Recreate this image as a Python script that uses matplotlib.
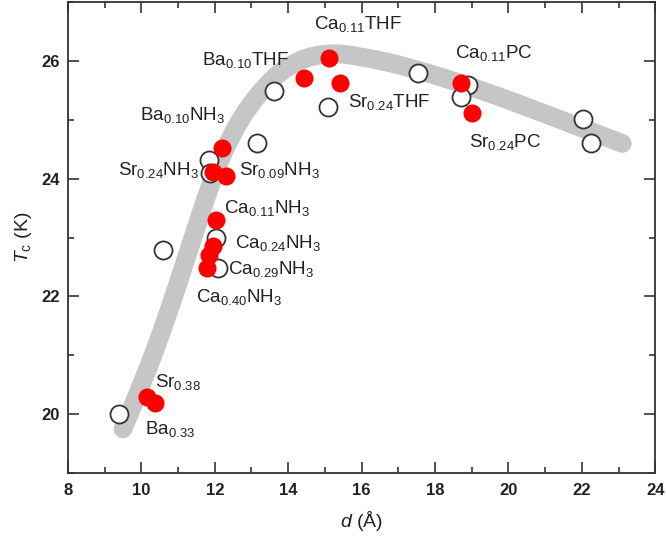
import matplotlib
matplotlib.use("Agg")
import matplotlib.pyplot as plt
from matplotlib.path import Path
from matplotlib.patches import PathPatch
from matplotlib.ticker import MultipleLocator

# ---------------------------------------------------------
# Data
# ---------------------------------------------------------
# guide-to-the-eye band (control points)
curve_d = [9.5, 10.05, 10.7, 11.3, 11.9, 12.4, 13.1, 14.0, 15.0, 16.0, 17.4, 19.3, 21.1, 23.1]
curve_tc = [19.75, 20.55, 21.65, 22.8, 23.95, 24.7, 25.4, 25.95, 26.15, 26.08, 25.88, 25.5, 25.08, 24.6]

# literature points (open circles)
open_d = [9.4, 10.6, 12.1, 12.02, 11.83, 11.88, 13.16, 13.6, 15.08, 17.54, 18.9, 18.7, 22.04, 22.24]
open_tc = [20.0, 22.79, 22.48, 22.99, 24.32, 24.1, 24.6, 25.49, 25.22, 25.8, 25.6, 25.39, 25.01, 24.6]

# this work (red filled)
filled_d = [10.16, 10.38, 11.8, 11.83, 11.96, 12.04, 12.2, 11.96, 12.3, 14.42, 15.1, 15.4, 18.7, 19.0]
filled_tc = [20.29, 20.19, 22.48, 22.7, 22.85, 23.3, 24.52, 24.11, 24.04, 25.71, 26.05, 25.63, 25.63, 25.12]

# annotations: (text, x, baseline y)
labels = ["Ca$_{0.11}$THF", "Ba$_{0.10}$THF", "Sr$_{0.24}$THF", "Ba$_{0.10}$NH$_3$",
          "Sr$_{0.24}$NH$_3$", "Sr$_{0.09}$NH$_3$", "Ca$_{0.11}$NH$_3$", "Ca$_{0.24}$NH$_3$",
          "Ca$_{0.29}$NH$_3$", "Ca$_{0.40}$NH$_3$", "Sr$_{0.38}$", "Ba$_{0.33}$",
          "Ca$_{0.11}$PC", "Sr$_{0.24}$PC"]
label_x = [14.7, 11.66, 15.62, 9.97, 9.37, 12.65, 12.24, 12.56, 12.37, 11.5, 10.38, 10.1, 18.55, 18.93]
label_y = [26.54, 25.93, 25.22, 25.0, 24.06, 24.06, 23.41, 22.82, 22.38, 21.9, 20.46, 19.67, 26.05, 24.54]

# ---------------------------------------------------------
# Style
# ---------------------------------------------------------
plt.rcParams['font.family'] = ['Liberation Sans', 'DejaVu Sans']
plt.rcParams['mathtext.fontset'] = 'custom'
plt.rcParams['mathtext.rm'] = 'Liberation Sans'
plt.rcParams['mathtext.it'] = 'Liberation Sans:italic'

txt_col = "#222222"

fig = plt.figure(figsize=(6.66, 5.37), dpi=100)
ax = fig.add_axes([0.102, 0.119, 0.882, 0.877])

# smooth band: quadratic bezier through the midpoints of the control polygon
pts = list(zip(curve_d, curve_tc))
verts = [pts[0]]
codes = [Path.MOVETO]
for i in range(1, len(pts) - 1):
    mid = ((pts[i][0] + pts[i + 1][0]) / 2, (pts[i][1] + pts[i + 1][1]) / 2)
    if i == len(pts) - 2:
        mid = pts[-1]
    verts += [pts[i], mid]
    codes += [Path.CURVE3, Path.CURVE3]
band = PathPatch(Path(verts, codes), fill=False, edgecolor="#c6c6c6", lw=13.5,
                 capstyle='round', joinstyle='round', zorder=1)
ax.add_patch(band)

ax.plot(open_d, open_tc, 'o', ms=13, mfc='white', mec='#333333', mew=1.3, zorder=2)
ax.plot(filled_d, filled_tc, 'o', ms=13, mfc='#ff0000', mec='#ff0000', mew=0, zorder=3)

for s, x, y in zip(labels, label_x, label_y):
    ax.text(x, y, s, fontsize=13.5, color=txt_col, va='baseline', ha='left', zorder=4)

ax.set_xlim(8, 24)
ax.set_ylim(19, 27)
ax.xaxis.set_major_locator(MultipleLocator(2))
ax.xaxis.set_minor_locator(MultipleLocator(1))
ax.yaxis.set_major_locator(MultipleLocator(2))
ax.yaxis.set_minor_locator(MultipleLocator(1))

ax.tick_params(which='both', direction='in', top=True, right=True, width=1.2, color='#333333')
ax.tick_params(which='major', length=8)
ax.tick_params(which='minor', length=4.5)
ax.tick_params(axis='x', pad=7)
ax.tick_params(axis='y', pad=6)
for lab in ax.get_xticklabels() + ax.get_yticklabels():
    lab.set_fontweight('bold')
    lab.set_fontsize(12)
    lab.set_color(txt_col)
for sp in ax.spines.values():
    sp.set_linewidth(1.3)
    sp.set_color('#333333')

ax.set_xlabel("$d$ (Å)", fontsize=14, color=txt_col, labelpad=8)
ax.set_ylabel("$T_{\\mathrm{c}}$ (K)", fontsize=14, color=txt_col, labelpad=5)

fig.savefig("out.png", dpi=100)
